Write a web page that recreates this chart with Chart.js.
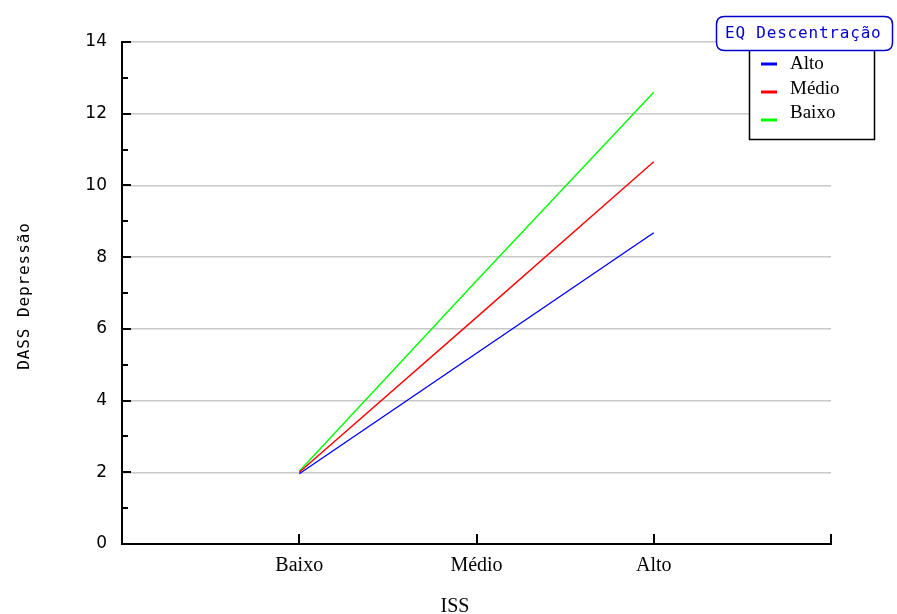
<!DOCTYPE html>
<html>
<head>
<meta charset="utf-8">
<script src="https://cdn.jsdelivr.net/npm/chart.js@4/dist/chart.umd.min.js"></script>
<style>
html,body{margin:0;padding:0;background:#fff;}
#wrap{width:897px;height:614px;position:relative;}
</style>
</head>
<body>
<div id="wrap"><canvas id="c"></canvas></div>
<script>
// ---- data ----
const categories = ['Baixo', 'Médio', 'Alto'];          // ISS levels (x)
const seriesNames = ['Alto', 'Médio', 'Baixo'];         // EQ Descentração
const altoValues  = [1.96, 5.32, 8.68];
const medioValues = [2.00, 6.32, 10.66];
const baixoValues = [2.03, 7.34, 12.60];
const yTicks = [0, 2, 4, 6, 8, 10, 12, 14];
const xTitle = 'ISS';
const yTitle = 'DASS Depressão';
const legendTitle = 'EQ Descentração';

const seriesValues = [altoValues, medioValues, baixoValues];
const seriesColors = ['#0000ff', '#ff0000', '#00ff00'];

const datasets = seriesNames.map((name, i) => ({
  label: name,
  data: seriesValues[i].map((v, k) => ({x: k + 1, y: v})),
  borderColor: seriesColors[i],
  backgroundColor: seriesColors[i],
  borderWidth: 1.4,
  pointRadius: 0,
  tension: 0,
  fill: false
}));

const MONO = '"DejaVu Sans Mono", monospace';
const SANS = '"DejaVu Sans", sans-serif';
const SERIF = '"Liberation Serif", "Times New Roman", serif';

const decor = {
  id: 'decor',
  beforeDatasetsDraw(chart) {
    const ctx = chart.ctx;
    const xs = chart.scales.x, ys = chart.scales.y;
    const area = chart.chartArea;
    ctx.save();
    ctx.strokeStyle = '#000';
    ctx.lineWidth = 2;
    yTicks.forEach(v => {
      const py = Math.round(ys.getPixelForValue(v));
      ctx.beginPath(); ctx.moveTo(area.left, py); ctx.lineTo(area.left + 9, py); ctx.stroke();
    });
    for (let i = 0; i < yTicks.length - 1; i++) {
      const v = (yTicks[i] + yTicks[i + 1]) / 2;
      const py = Math.round(ys.getPixelForValue(v));
      ctx.beginPath(); ctx.moveTo(area.left, py); ctx.lineTo(area.left + 6, py); ctx.stroke();
    }
    const xt = categories.map((c, i) => i + 1).concat([xs.max]);
    xt.forEach(v => {
      const px = Math.round(xs.getPixelForValue(v));
      ctx.beginPath(); ctx.moveTo(px, area.bottom); ctx.lineTo(px, area.bottom - 10); ctx.stroke();
    });
    ctx.restore();
  },
  afterDraw(chart) {
    const ctx = chart.ctx;
    ctx.save();
    ctx.fillStyle = '#000';
    ctx.font = '20px ' + SERIF;
    ctx.textAlign = 'center';
    ctx.textBaseline = 'alphabetic';
    ctx.fillText(xTitle, 455, 612);

    ctx.save();
    ctx.translate(29, 296);
    ctx.rotate(-Math.PI / 2);
    ctx.font = '16px ' + MONO;
    ctx.letterSpacing = '0.9px';
    ctx.textAlign = 'center';
    ctx.textBaseline = 'alphabetic';
    ctx.fillText(yTitle, 0, 0);
    ctx.restore();

    // legend box
    ctx.fillStyle = '#fff';
    ctx.fillRect(749, 30, 125, 109);
    ctx.strokeStyle = '#000';
    ctx.lineWidth = 1.5;
    ctx.strokeRect(749.5, 30.5, 125, 109);

    const textY = [64, 89, 113];
    const swY = [64, 92, 120];
    chart.data.datasets.forEach((ds, i) => {
      ctx.strokeStyle = ds.borderColor;
      ctx.lineWidth = 3;
      ctx.beginPath(); ctx.moveTo(761, swY[i]); ctx.lineTo(777, swY[i]); ctx.stroke();
      ctx.fillStyle = '#000';
      ctx.font = '19px ' + SERIF;
      ctx.textAlign = 'left';
      ctx.textBaseline = 'middle';
      ctx.fillText(ds.label, 790, textY[i]);
    });

    // legend title box
    const bx = 716.5, by = 16.5, bw = 176, bh = 34, r = 8;
    ctx.beginPath();
    ctx.moveTo(bx + r, by);
    ctx.lineTo(bx + bw - r, by);
    ctx.quadraticCurveTo(bx + bw, by, bx + bw, by + r);
    ctx.lineTo(bx + bw, by + bh - r);
    ctx.quadraticCurveTo(bx + bw, by + bh, bx + bw - r, by + bh);
    ctx.lineTo(bx + r, by + bh);
    ctx.quadraticCurveTo(bx, by + bh, bx, by + bh - r);
    ctx.lineTo(bx, by + r);
    ctx.quadraticCurveTo(bx, by, bx + r, by);
    ctx.closePath();
    ctx.fillStyle = '#fff';
    ctx.fill();
    ctx.strokeStyle = '#0000cc';
    ctx.lineWidth = 1.5;
    ctx.stroke();
    ctx.fillStyle = '#0000cc';
    ctx.font = '16px ' + MONO;
    ctx.letterSpacing = '0.8px';
    ctx.textAlign = 'left';
    ctx.textBaseline = 'middle';
    ctx.fillText(legendTitle, 725, 34);
    ctx.restore();
  }
};

new Chart(document.getElementById('c'), {
  type: 'line',
  data: { datasets },
  options: {
    responsive: true,
    maintainAspectRatio: false,
    animation: false,
    layout: { padding: { left: 0, top: 42, right: 66, bottom: 0 } },
    plugins: { legend: { display: false }, tooltip: { enabled: false } },
    scales: {
      x: {
        type: 'linear',
        min: 0, max: 4,
        afterBuildTicks: s => { s.ticks = categories.map((c, i) => ({ value: i + 1 })); },
        afterFit: s => { s.height = 70; },
        ticks: {
          callback: v => categories[v - 1] || '',
          font: { family: SERIF, size: 20 },
          color: '#000',
          padding: 10,
          maxRotation: 0
        },
        grid: { display: false, drawTicks: false },
        border: { display: true, color: '#000', width: 2 }
      },
      y: {
        min: 0, max: 14,
        afterBuildTicks: s => { s.ticks = yTicks.map(v => ({ value: v })); },
        afterFit: s => { s.width = 122; },
        ticks: {
          font: { family: SANS, size: 17 },
          color: '#000',
          padding: 15
        },
        grid: { color: '#c8c8c8', lineWidth: 1.5, drawTicks: false },
        border: { display: true, color: '#000', width: 2 }
      }
    }
  },
  plugins: [decor]
});
</script>
</body>
</html>
